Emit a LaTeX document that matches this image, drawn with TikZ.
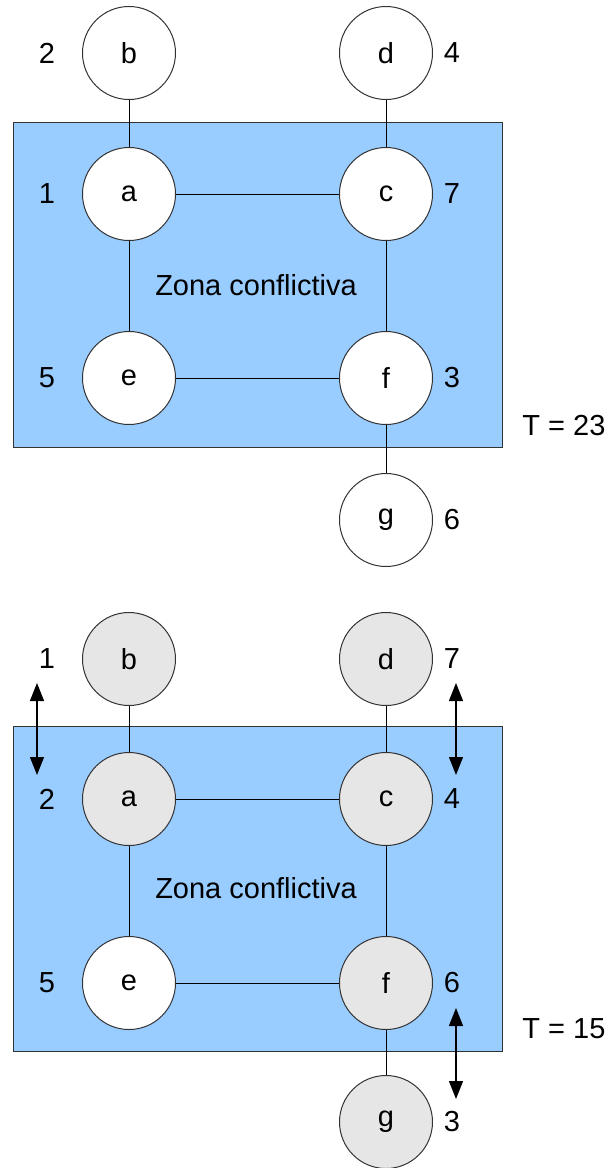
\documentclass[tikz,border=0pt]{standalone}
\usepackage{fontspec}
\setmainfont{Liberation Sans}
\usetikzlibrary{arrows.meta}
\definecolor{zone}{HTML}{99CCFF}
\definecolor{visited}{HTML}{E6E6E6}
\definecolor{rim}{HTML}{333333}
\tikzset{
  vertex/.style={circle,draw=rim,line width=1pt,fill=white,minimum size=93pt,inner sep=0pt,font=\fontsize{29}{33}\selectfont},
  done/.style={vertex,fill=visited},
  zonebox/.style={draw=rim,line width=1.2pt,fill=zone},
  edge/.style={draw=black,line width=1pt},
  num/.style={font=\fontsize{29}{33}\selectfont},
  swap/.style={line width=1.3pt,{Triangle[length=18pt,width=14pt]}-{Triangle[length=18pt,width=14pt]}}
}
\begin{document}
\begin{tikzpicture}[x=1pt,y=-1pt]
\useasboundingbox (0,0) rectangle (608,1168);

% ---- first colouring, T = 23 ----
\node[zonebox,minimum width=489pt,minimum height=325pt,anchor=north west,inner sep=0pt] (z1) at (13,122) {};
\node[num] (z1t) at (256,285) {Zona conflictiva};
\node[vertex] (b1) at (129,53) {b};
\node[vertex] (d1) at (386,53) {d};
\node[vertex] (a1) at (129,194) {a};
\node[vertex] (c1) at (386,194) {c};
\node[vertex] (e1) at (129,378) {e};
\node[vertex] (f1) at (386,378) {f};
\node[vertex] (g1) at (386,520) {g};
\draw[edge] (b1) -- (a1);
\draw[edge] (d1) -- (c1);
\draw[edge] (a1) -- (c1);
\draw[edge] (a1) -- (e1);
\draw[edge] (c1) -- (f1);
\draw[edge] (e1) -- (f1);
\draw[edge] (f1) -- (g1);
\node[num] (nb1) at (47,53) {2};
\node[num] (na1) at (47,194) {1};
\node[num] (ne1) at (47,378) {5};
\node[num] (nd1) at (452,53) {4};
\node[num] (nc1) at (452,194) {7};
\node[num] (nf1) at (452,378) {3};
\node[num] (ng1) at (452,520) {6};
\node[num] (t1) at (564,426) {T = 23};

% ---- second colouring, T = 15 ----
\node[zonebox,minimum width=489pt,minimum height=325pt,anchor=north west,inner sep=0pt] (z2) at (13,726) {};
\node[num] (z2t) at (256,888) {Zona conflictiva};
\node[done] (b2) at (129,659) {b};
\node[done] (d2) at (386,659) {d};
\node[done] (a2) at (129,799) {a};
\node[done] (c2) at (386,799) {c};
\node[vertex] (e2) at (129,983) {e};
\node[done] (f2) at (386,983) {f};
\node[done] (g2) at (386,1122) {g};
\draw[edge] (b2) -- (a2);
\draw[edge] (d2) -- (c2);
\draw[edge] (a2) -- (c2);
\draw[edge] (a2) -- (e2);
\draw[edge] (c2) -- (f2);
\draw[edge] (e2) -- (f2);
\draw[edge] (f2) -- (g2);
\node[num] (nb2) at (47,659) {1};
\node[num] (na2) at (47,799) {2};
\node[num] (ne2) at (47,983) {5};
\node[num] (nd2) at (452,659) {7};
\node[num] (nc2) at (452,799) {4};
\node[num] (nf2) at (452,983) {6};
\node[num] (ng2) at (452,1122) {3};
\node[num] (t2) at (564,1029) {T = 15};

% swaps between neighbouring labels
\coordinate (s1a) at (37,683);
\coordinate (s1b) at (37,775);
\coordinate (s2a) at (456,683);
\coordinate (s2b) at (456,775);
\coordinate (s3a) at (456,1008);
\coordinate (s3b) at (456,1099);
\draw[swap] (s1a) -- (s1b);
\draw[swap] (s2a) -- (s2b);
\draw[swap] (s3a) -- (s3b);
\end{tikzpicture}
\end{document}
